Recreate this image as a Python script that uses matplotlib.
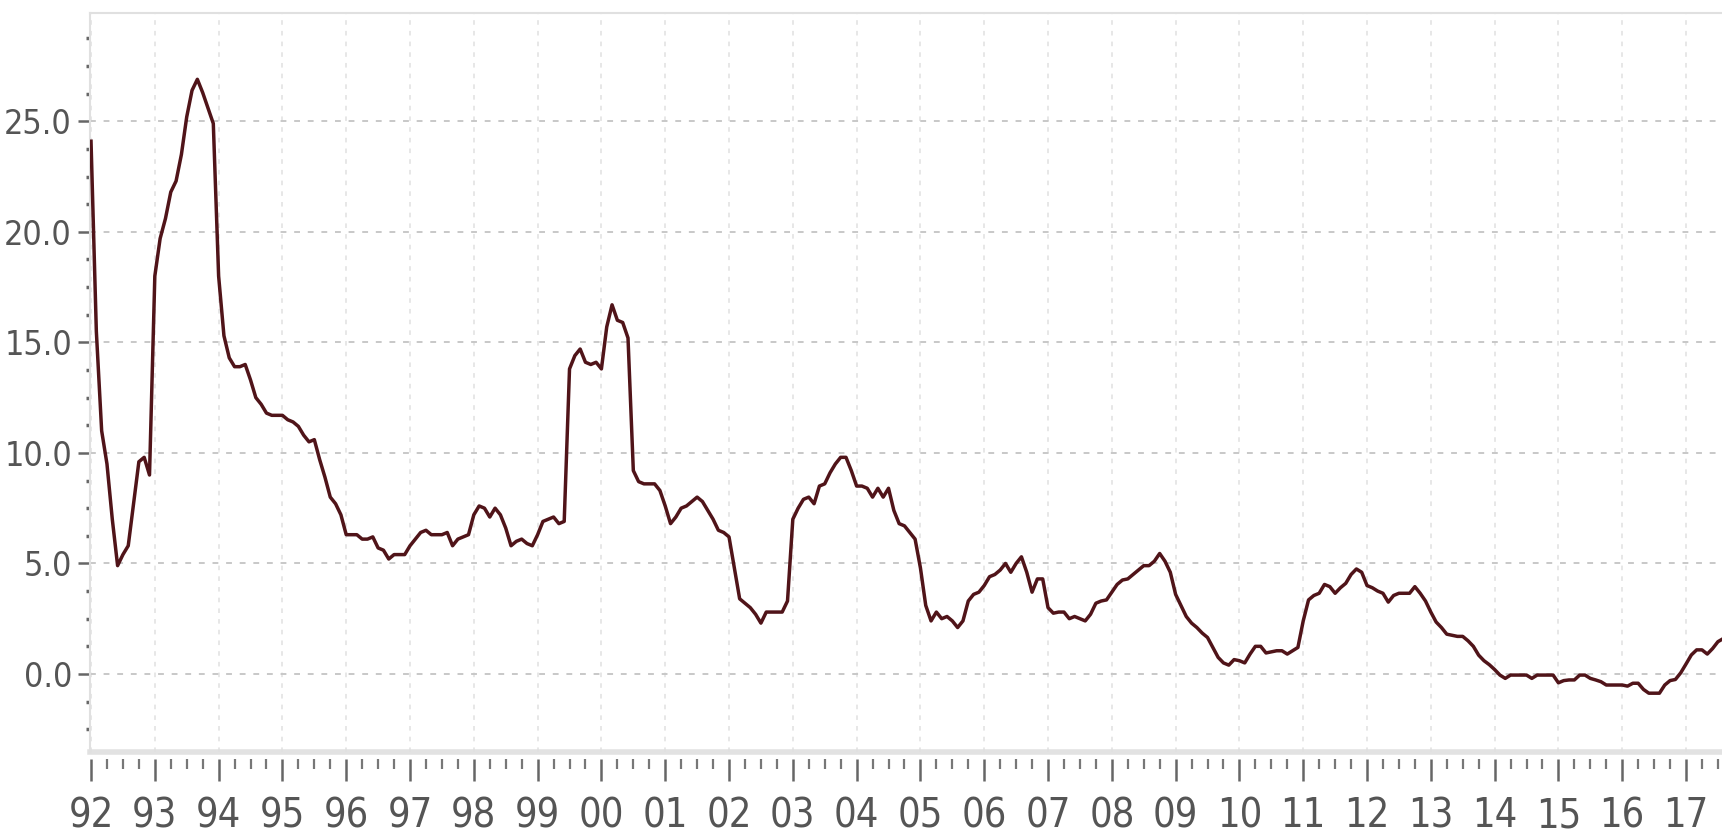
import numpy as np
import matplotlib
matplotlib.use("Agg")
import matplotlib.pyplot as plt
from matplotlib import font_manager as fm
from matplotlib.ticker import MultipleLocator

# monthly values, Jan 1992 onwards
y1992 = [24.1, 15.5, 11.0, 9.5, 7.0, 4.9, 5.4, 5.8, 7.7, 9.6, 9.8, 9.0]
y1993 = [18.0, 19.7, 20.6, 21.8, 22.3, 23.5, 25.2, 26.4, 26.9, 26.3, 25.6, 24.9]
y1994 = [18.0, 15.3, 14.3, 13.9, 13.9, 14.0, 13.3, 12.5, 12.2, 11.8, 11.7, 11.7]
y1995 = [11.7, 11.5, 11.4, 11.2, 10.8, 10.5, 10.6, 9.7, 8.9, 8.0, 7.7, 7.2]
y1996 = [6.3, 6.3, 6.3, 6.1, 6.1, 6.2, 5.7, 5.6, 5.2, 5.4, 5.4, 5.4]
y1997 = [5.8, 6.1, 6.4, 6.5, 6.3, 6.3, 6.3, 6.4, 5.8, 6.1, 6.2, 6.3]
y1998 = [7.2, 7.6, 7.5, 7.1, 7.5, 7.2, 6.6, 5.8, 6.0, 6.1, 5.9, 5.8]
y1999 = [6.3, 6.9, 7.0, 7.1, 6.8, 6.9, 13.8, 14.4, 14.7, 14.1, 14.0, 14.1]
y2000 = [13.8, 15.7, 16.7, 16.0, 15.9, 15.2, 9.2, 8.7, 8.6, 8.6, 8.6, 8.3]
y2001 = [7.6, 6.8, 7.1, 7.5, 7.6, 7.8, 8.0, 7.8, 7.4, 7.0, 6.5, 6.4]
y2002 = [6.2, 4.8, 3.4, 3.2, 3.0, 2.7, 2.3, 2.8, 2.8, 2.8, 2.8, 3.3]
y2003 = [7.0, 7.5, 7.9, 8.0, 7.7, 8.5, 8.6, 9.1, 9.5, 9.8, 9.8, 9.2]
y2004 = [8.5, 8.5, 8.4, 8.0, 8.4, 8.0, 8.4, 7.4, 6.8, 6.7, 6.4, 6.1]
y2005 = [4.8, 3.1, 2.4, 2.8, 2.5, 2.6, 2.4, 2.1, 2.4, 3.3, 3.6, 3.7]
y2006 = [4.0, 4.4, 4.5, 4.7, 5.0, 4.6, 5.0, 5.3, 4.6, 3.7, 4.3, 4.3]
y2007 = [3.0, 2.75, 2.8, 2.8, 2.5, 2.6, 2.5, 2.4, 2.7, 3.2, 3.3, 3.35]
y2008 = [3.7, 4.05, 4.25, 4.3, 4.5, 4.7, 4.9, 4.9, 5.1, 5.45, 5.1, 4.6]
y2009 = [3.6, 3.1, 2.6, 2.3, 2.1, 1.85, 1.65, 1.2, 0.75, 0.5, 0.4, 0.65]
y2010 = [0.6, 0.5, 0.9, 1.25, 1.25, 0.95, 1.0, 1.05, 1.05, 0.9, 1.05, 1.2]
y2011 = [2.4, 3.35, 3.55, 3.65, 4.05, 3.95, 3.65, 3.9, 4.1, 4.5, 4.75, 4.6]
y2012 = [4.0, 3.9, 3.75, 3.65, 3.25, 3.55, 3.65, 3.65, 3.65, 3.95, 3.65, 3.3]
y2013 = [2.8, 2.35, 2.1, 1.8, 1.75, 1.7, 1.7, 1.5, 1.25, 0.85, 0.6, 0.42]
y2014 = [0.2, -0.05, -0.2, -0.05, -0.05, -0.05, -0.05, -0.2, -0.05, -0.05, -0.05, -0.05]
y2015 = [-0.4, -0.3, -0.27, -0.27, -0.05, -0.05, -0.2, -0.27, -0.35, -0.5, -0.5, -0.5]
y2016 = [-0.5, -0.55, -0.42, -0.42, -0.7, -0.87, -0.87, -0.87, -0.5, -0.3, -0.25, 0.05]
y2017 = [0.45, 0.86, 1.09, 1.09, 0.9, 1.15, 1.46, 1.6]

year_labels = ['92', '93', '94', '95', '96', '97', '98', '99', '00', '01', '02', '03', '04',
               '05', '06', '07', '08', '09', '10', '11', '12', '13', '14', '15', '16', '17']
y_ticks = [0, 5, 10, 15, 20, 25]

values = (y1992 + y1993 + y1994 + y1995 + y1996 + y1997 + y1998 + y1999 + y2000 + y2001
          + y2002 + y2003 + y2004 + y2005 + y2006 + y2007 + y2008 + y2009 + y2010
          + y2011 + y2012 + y2013 + y2014 + y2015 + y2016 + y2017)
x = 1992 + np.arange(len(values)) / 12.0
years = 1992 + np.arange(len(year_labels))

# the original uses a narrow font; take one if there is one, else shrink
names = {f.name for f in fm.fontManager.ttflist}
condensed = [f for f in fm.fontManager.ttflist
             if f.name == 'DejaVu Sans' and 'condensed' in str(f.stretch).lower()]
if 'Liberation Sans Narrow' in names:
    font_kw = dict(family='Liberation Sans Narrow')
    xsize, ysize = 31, 29
elif 'DejaVu Sans Condensed' in names:
    font_kw = dict(family='DejaVu Sans Condensed')
    xsize, ysize = 28.5, 24.5
elif condensed:
    font_kw = dict(family='DejaVu Sans', stretch='condensed')
    xsize, ysize = 28.5, 24.5
else:
    font_kw = dict(family='Liberation Sans')
    xsize, ysize = 28, 24
txt = '#555555'

fig = plt.figure(figsize=(17.22, 8.38), dpi=100)
W, H = 1722, 838
ax = fig.add_axes([90 / W, 1 - 752 / H, 1 - 90 / W, (752 - 13) / H])

ax.plot(x, values, color='#501419', lw=2.5, zorder=3)

ax.set_xlim(1991.984, 2017.564)
ax.set_ylim(-3.53, 29.9)

ax.set_xticks(years)
ax.set_xticklabels(year_labels)
ax.xaxis.set_minor_locator(MultipleLocator(0.25))
ax.set_yticks(y_ticks)
ax.set_yticklabels([f"{v:.1f}" for v in y_ticks])
ax.yaxis.set_minor_locator(MultipleLocator(1.25))

ax.grid(True, axis='y', which='major', ls=(0, (3, 4)), color='#c8c8c8', lw=1.4)
ax.grid(True, axis='x', which='major', ls=(0, (3, 4)), color='#e0e0e0', lw=1.1)

for s in ['top', 'left']:
    ax.spines[s].set_color('#e0e0e0')
    ax.spines[s].set_linewidth(1.5)
ax.spines['right'].set_visible(False)
ax.spines['bottom'].set_position(('outward', 5))
ax.spines['bottom'].set_visible(False)
# grey band along the bottom of the plot area
ax.axhline(-3.53, color='#e2e2e2', lw=4, clip_on=False, zorder=1)

ax.tick_params(axis='x', which='major', direction='out', length=16, width=1.8,
               color='#666666', pad=11, labelsize=xsize, labelcolor=txt)
ax.tick_params(axis='x', which='minor', direction='out', length=7, width=1.6,
               color='#777777')
ax.tick_params(axis='y', which='major', direction='out', length=9, width=1.8,
               color='#666666', pad=4, labelsize=ysize, labelcolor=txt)
ax.tick_params(axis='y', which='minor', direction='out', length=3, width=2.5,
               color='#666666')
for lab in ax.get_xticklabels() + ax.get_yticklabels():
    lab.set(**font_kw)

fig.savefig('out.png', dpi=100)
